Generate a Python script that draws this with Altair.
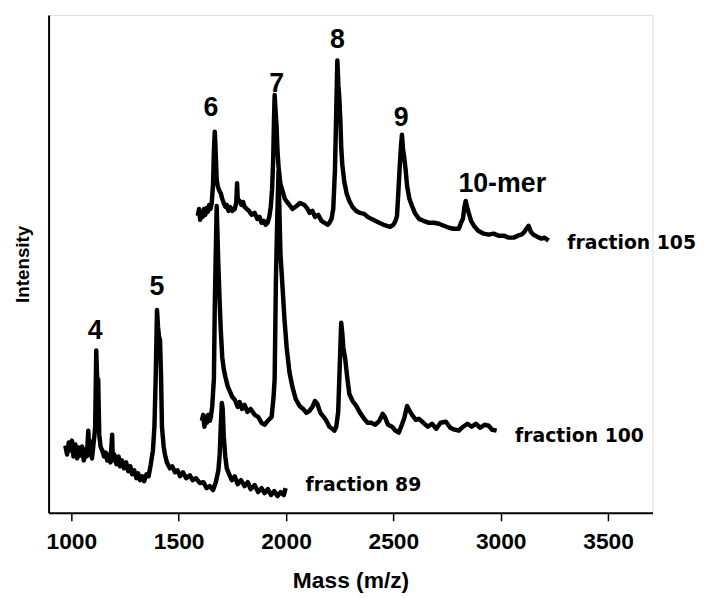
import altair as alt
import pandas as pd

# ---- data (mass m/z, intensity in arbitrary units) ----
f89_mass = [972, 980, 988, 995, 1003, 1010, 1019, 1027, 1035, 1042, 1050, 1058, 1065, 1072, 1079, 1084,
            1090, 1096, 1102, 1107, 1111, 1116, 1120, 1125, 1130, 1136, 1144, 1152, 1160, 1167, 1175, 1182,
            1190, 1193, 1200, 1210, 1220, 1227, 1235, 1245, 1255, 1265, 1275, 1283, 1293, 1303, 1311, 1320,
            1330, 1339, 1350, 1360, 1370, 1380, 1387, 1393, 1399, 1404, 1409, 1413, 1418, 1422, 1430, 1436,
            1445, 1459, 1470, 1483, 1495, 1506, 1520, 1535, 1552, 1565, 1580, 1599, 1615, 1630, 1645, 1660,
            1673, 1685, 1691, 1696, 1701, 1705, 1710, 1717, 1724, 1735, 1748, 1761, 1775, 1790, 1807, 1822,
            1835, 1854, 1870, 1886, 1900, 1915, 1930, 1945, 1960, 1975, 1990, 1998]
f89_int = [81, 72, 84, 76, 86, 70, 82, 68, 79, 71, 80, 66, 77, 70, 96, 72,
           85, 68, 80, 90, 100, 177, 150, 148, 92, 80, 76, 70, 74, 66, 72, 64,
           92, 66, 72, 62, 70, 60, 66, 58, 64, 55, 60, 52, 56, 48, 53, 46,
           50, 45, 52, 50, 62, 76, 100, 150, 218, 200, 190, 188, 150, 100, 80, 72,
           64, 58, 60, 54, 56, 50, 54, 48, 51, 46, 48, 43, 44, 38, 40, 36,
           44, 56, 72, 100, 124, 118, 90, 70, 58, 52, 46, 50, 42, 46, 40, 44,
           37, 41, 34, 38, 33, 37, 31, 35, 30, 34, 31, 38]

f100_mass = [1608, 1614, 1620, 1626, 1631, 1638, 1645, 1650, 1656, 1664, 1668, 1673, 1677, 1680, 1684, 1687,
             1691, 1696, 1703, 1710, 1718, 1728, 1738, 1750, 1762, 1775, 1784, 1795, 1807, 1820, 1835, 1854,
             1870, 1886, 1900, 1915, 1933, 1942, 1947, 1953, 1960, 1965, 1969, 1974, 1984, 1993, 2003, 2016,
             2030, 2045, 2063, 2080, 2095, 2109, 2123, 2135, 2146, 2160, 2175, 2188, 2202, 2215, 2225, 2234,
             2243, 2250, 2257, 2262, 2267, 2276, 2285, 2295, 2310, 2327, 2345, 2364, 2380, 2397, 2415, 2435,
             2450, 2460, 2475, 2494, 2510, 2525, 2536, 2550, 2564, 2573, 2587, 2605, 2619, 2640, 2660, 2680,
             2700, 2720, 2745, 2765, 2785, 2805, 2825, 2845, 2865, 2884, 2905, 2925, 2944, 2960, 2981]
f100_int = [106, 112, 100, 110, 104, 112, 106, 110, 120, 148, 220, 278, 323, 300, 268, 250,
            225, 198, 170, 158, 150, 141, 136, 130, 127, 120, 125, 118, 122, 115, 118, 112,
            110, 104, 102, 106, 110, 130, 148, 250, 318, 358, 320, 275, 240, 208, 180, 155,
            140, 128, 121, 118, 114, 116, 120, 126, 123, 114, 110, 106, 100, 98, 96, 100,
            115, 160, 205, 195, 180, 168, 150, 133, 126, 121, 114, 108, 104, 104, 102, 106,
            113, 110, 102, 100, 96, 94, 100, 108, 121, 117, 112, 107, 108, 104, 100, 103,
            98, 104, 105, 99, 97, 96, 100, 103, 100, 103, 99, 102, 101, 97, 96]

f105_mass = [1589, 1595, 1600, 1606, 1612, 1618, 1624, 1630, 1636, 1642, 1648, 1654, 1660, 1664, 1668, 1671,
             1673, 1677, 1682, 1690, 1696, 1703, 1710, 1718, 1724, 1732, 1740, 1750, 1761, 1768, 1772, 1775,
             1784, 1792, 1800, 1807, 1817, 1828, 1840, 1854, 1866, 1876, 1886, 1896, 1905, 1914, 1922, 1929,
             1935, 1940, 1944, 1947, 1951, 1956, 1960, 1965, 1974, 1984, 1995, 2005, 2016, 2030, 2049, 2065,
             2086, 2100, 2110, 2123, 2135, 2150, 2165, 2180, 2195, 2202, 2212, 2220, 2228, 2234, 2239, 2244,
             2248, 2253, 2257, 2262, 2271, 2283, 2295, 2310, 2327, 2345, 2364, 2380, 2397, 2415, 2434, 2455,
             2470, 2485, 2500, 2510, 2517, 2524, 2531, 2536, 2540, 2545, 2550, 2557, 2564, 2575, 2587, 2600,
             2619, 2640, 2666, 2690, 2712, 2735, 2759, 2780, 2805, 2815, 2824, 2831, 2837, 2843, 2851, 2862,
             2875, 2895, 2921, 2944, 2967, 2990, 3014, 3037, 3060, 3080, 3095, 3107, 3120, 3130, 3140, 3153,
             3170, 3190, 3205, 3223]
f105_int = [313, 320, 309, 316, 312, 320, 314, 321, 317, 324, 320, 326, 345, 378, 398, 385,
            373, 350, 343, 338, 336, 330, 326, 322, 324, 318, 322, 318, 320, 326, 346, 330,
            328, 324, 327, 322, 320, 318, 314, 316, 310, 312, 306, 308, 304, 306, 312, 322,
            340, 368, 410, 435, 420, 403, 380, 363, 345, 338, 330, 327, 324, 320, 323, 326,
            324, 320, 316, 318, 312, 314, 308, 306, 304, 306, 310, 320, 360, 420, 470, 445,
            433, 410, 383, 365, 348, 335, 328, 322, 318, 316, 315, 312, 310, 308, 306, 304,
            303, 302, 304, 308, 313, 340, 368, 385, 395, 380, 373, 360, 343, 330, 323, 316,
            310, 308, 306, 306, 305, 303, 301, 300, 300, 306, 310, 322, 328, 322, 316, 308,
            303, 298, 295, 294, 295, 293, 293, 291, 291, 293, 294, 296, 300, 303, 297, 294,
            292, 290, 291, 288]

peak_labels = ["4", "5", "6", "7", "8", "9", "10-mer"]
peak_label_mass = [1111, 1399, 1650, 1956, 2239, 2536, 3007]
peak_label_int = [197, 241, 422, 446, 491, 412, 345]

fraction_labels = ["fraction 105", "fraction 100", "fraction 89"]
fraction_label_mass = [3310, 3067, 2091]
fraction_label_int = [286, 91, 41]

x_ticks = [1000, 1500, 2000, 2500, 3000, 3500]

# ---- tables ----
spec = pd.concat([
    pd.DataFrame({"mass": f89_mass, "intensity": f89_int, "series": "fraction 89"}),
    pd.DataFrame({"mass": f100_mass, "intensity": f100_int, "series": "fraction 100"}),
    pd.DataFrame({"mass": f105_mass, "intensity": f105_int, "series": "fraction 105"}),
], ignore_index=True)
peaks = pd.DataFrame({"label": peak_labels, "mass": peak_label_mass, "intensity": peak_label_int})
fracs = pd.DataFrame({"label": fraction_labels, "mass": fraction_label_mass, "intensity": fraction_label_int})

xscale = alt.Scale(domain=[894, 3707], nice=False, zero=False)
yscale = alt.Scale(domain=[13, 516], nice=False, zero=False)

xaxis = alt.Axis(values=x_ticks, format="d", grid=False, tickSize=8, tickWidth=1.5, tickColor="black",
                 domainColor="black", domainWidth=2, labelFont="Liberation Sans",
                 labelFontSize=23, labelFontWeight="bold", labelColor="black", labelPadding=10,
                 title="Mass (m/z)", titleFont="Liberation Sans", titleFontSize=23, titleFontWeight="bold",
                 titleColor="black", titlePadding=16)
yaxis = alt.Axis(grid=False, ticks=False, labels=False, domainColor="black", domainWidth=2,
                 title="Intensity", titleFont="Liberation Sans", titleFontSize=19, titleFontWeight="bold",
                 titleColor="black", titlePadding=16)

lines = alt.Chart(spec).mark_line(color="black", strokeWidth=4.5, strokeJoin="round").encode(
    x=alt.X("mass:Q", scale=xscale, axis=xaxis),
    y=alt.Y("intensity:Q", scale=yscale, axis=yaxis),
    detail="series:N",
)

peak_text = alt.Chart(peaks).mark_text(font="Liberation Sans", fontSize=27, fontWeight="bold",
                                       color="black", align="center", baseline="middle").encode(
    x=alt.X("mass:Q", scale=xscale), y=alt.Y("intensity:Q", scale=yscale), text="label:N")

frac_text = alt.Chart(fracs).mark_text(font="DejaVu Sans", fontSize=19, fontWeight="bold",
                                       color="black", align="left", baseline="middle").encode(
    x=alt.X("mass:Q", scale=xscale), y=alt.Y("intensity:Q", scale=yscale), text="label:N")

chart = alt.layer(lines, peak_text, frac_text).properties(
    width=610, height=503,
    autosize=alt.AutoSizeParams(type="none"),
    padding={"left": 41, "top": 4, "right": 48, "bottom": 80},
).configure_view(stroke=None).configure(background="white")

chart.save("out.html", embed_options={"renderer": "svg", "actions": False})
